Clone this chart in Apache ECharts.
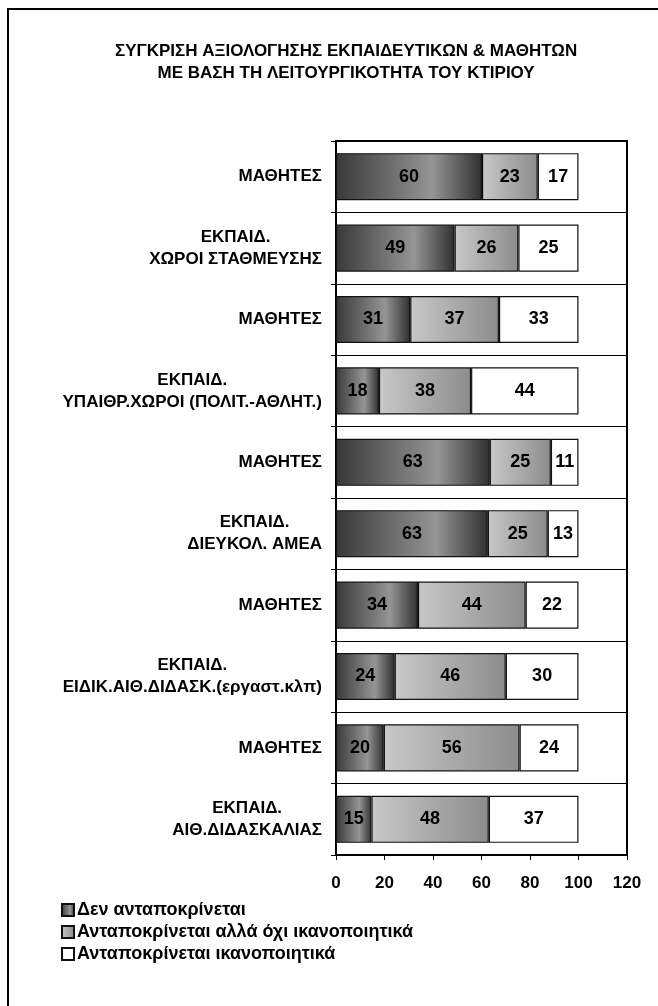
<!DOCTYPE html>
<html>
<head>
<meta charset="utf-8">
<title>Σύγκριση αξιολόγησης</title>
<script src="https://cdn.jsdelivr.net/npm/echarts@6/dist/echarts.min.js"></script>
<style>
  html, body { margin: 0; padding: 0; background: #fff; }
  #chart { width: 658px; height: 1006px; }
</style>
</head>
<body>
<div id="chart"></div>
<script>
// categories, top to bottom
const categories = [
  'ΜΑΘΗΤΕΣ',
  'ΕΚΠΑΙΔ.\nΧΩΡΟΙ ΣΤΑΘΜΕΥΣΗΣ',
  'ΜΑΘΗΤΕΣ',
  'ΕΚΠΑΙΔ.\nΥΠΑΙΘΡ.ΧΩΡΟΙ (ΠΟΛΙΤ.-ΑΘΛΗΤ.)',
  'ΜΑΘΗΤΕΣ',
  'ΕΚΠΑΙΔ.\nΔΙΕΥΚΟΛ. ΑΜΕΑ',
  'ΜΑΘΗΤΕΣ',
  'ΕΚΠΑΙΔ.\nΕΙΔΙΚ.ΑΙΘ.ΔΙΔΑΣΚ.(εργαστ.κλπ)',
  'ΜΑΘΗΤΕΣ',
  'ΕΚΠΑΙΔ.\nΑΙΘ.ΔΙΔΑΣΚΑΛΙΑΣ'
]

const seriesNames = [
  'Δεν ανταποκρίνεται',
  'Ανταποκρίνεται αλλά όχι ικανοποιητικά',
  'Ανταποκρίνεται ικανοποιητικά'
]

const titleLines = [
  'ΣΥΓΚΡΙΣΗ ΑΞΙΟΛΟΓΗΣΗΣ ΕΚΠΑΙΔΕΥΤΙΚΩΝ & ΜΑΘΗΤΩΝ',
  'ΜΕ ΒΑΣΗ ΤΗ ΛΕΙΤΟΥΡΓΙΚΟΤΗΤΑ ΤΟΥ ΚΤΙΡΙΟΥ'
]

// percentages (labels show rounded values)
const notMet = [60.2, 48.9, 30.6, 17.7, 63.4, 62.6, 33.8, 24.2, 19.7, 14.6]
const partlyMet = [23.0, 26.3, 36.6, 38.0, 25.2, 24.7, 44.4, 45.8, 56.0, 48.4]
const wellMet = [16.8, 24.8, 32.8, 44.3, 11.4, 12.7, 21.8, 30.0, 24.3, 37.0]

const xTicks = { min: 0, max: 120, interval: 20 }

const FONT = "'Liberation Sans', Arial, sans-serif"

// wrap each line in a centred rich token so multi-line text is centred
const centerLines = lines => lines.map(s => '{c|' + s + '}').join('\n')

const chart = echarts.init(document.getElementById('chart'))

const darkFill = new echarts.graphic.LinearGradient(0, 0, 1, 0, [
  { offset: 0, color: '#383838' },
  { offset: 0.66, color: '#959595' },
  { offset: 1, color: '#303030' }
])
const lightFill = new echarts.graphic.LinearGradient(0, 0, 1, 0, [
  { offset: 0, color: '#c8c8c8' },
  { offset: 1, color: '#8c8c8c' }
])

const barLabel = {
  show: true,
  position: 'inside',
  color: '#000',
  fontSize: 18,
  fontWeight: 'bold',
  fontFamily: FONT,
  formatter: p => Math.round(p.value)
}

const makeSeries = (name, data, fill) => ({
  name: name,
  type: 'bar',
  stack: 'total',
  barWidth: '66%',
  data: data,
  label: barLabel,
  itemStyle: {
    color: fill,
    borderColor: '#111',
    borderWidth: 1.2
  },
  emphasis: { disabled: true }
})

const labelText = {
  align: 'center',
  color: '#000',
  fontSize: 17,
  fontWeight: 'bold',
  fontFamily: FONT,
  lineHeight: 22
}

const option = {
  animation: false,
  backgroundColor: '#fff',
  textStyle: { fontFamily: FONT },
  title: {
    text: centerLines(titleLines),
    left: 110,
    top: 35,
    textStyle: {
      rich: { c: labelText }
    }
  },
  graphic: [{
    type: 'rect',
    shape: { x: 8, y: 9, width: 720, height: 1100 },
    style: { fill: 'none', stroke: '#000', lineWidth: 2 },
    silent: true
  }],
  legend: {
    orient: 'vertical',
    left: 56,
    top: 896,
    itemWidth: 12,
    itemHeight: 12,
    itemGap: 4,
    icon: 'rect',
    selectedMode: false,
    data: seriesNames,
    textStyle: {
      fontFamily: FONT,
      fontSize: 18,
      fontWeight: 'bold',
      color: '#000',
      padding: [0, 0, 0, -2]
    }
  },
  grid: {
    left: 336,
    right: 31,
    top: 141,
    bottom: 151,
    show: true,
    borderColor: '#000',
    borderWidth: 2,
    backgroundColor: '#fff'
  },
  xAxis: {
    type: 'value',
    min: xTicks.min,
    max: xTicks.max,
    interval: xTicks.interval,
    axisLine: { show: true, lineStyle: { color: '#000', width: 2 } },
    axisTick: { show: true, length: 5, lineStyle: { color: '#000' } },
    splitLine: { show: false },
    axisLabel: {
      color: '#000',
      fontSize: 17,
      fontWeight: 'bold',
      fontFamily: FONT,
      margin: 20
    }
  },
  yAxis: {
    type: 'category',
    inverse: true,
    data: categories,
    axisLine: { show: true, lineStyle: { color: '#000', width: 2 } },
    axisTick: { show: true, length: 5, lineStyle: { color: '#000' } },
    splitLine: { show: true, lineStyle: { color: '#000', width: 1 } },
    axisLabel: {
      margin: 14,
      formatter: v => centerLines(v.split('\n')),
      rich: { c: labelText }
    }
  },
  series: [
    makeSeries(seriesNames[0], notMet, darkFill),
    makeSeries(seriesNames[1], partlyMet, lightFill),
    makeSeries(seriesNames[2], wellMet, '#ffffff')
  ]
}

chart.setOption(option)
window.addEventListener('resize', () => chart.resize())
</script>
</body>
</html>
